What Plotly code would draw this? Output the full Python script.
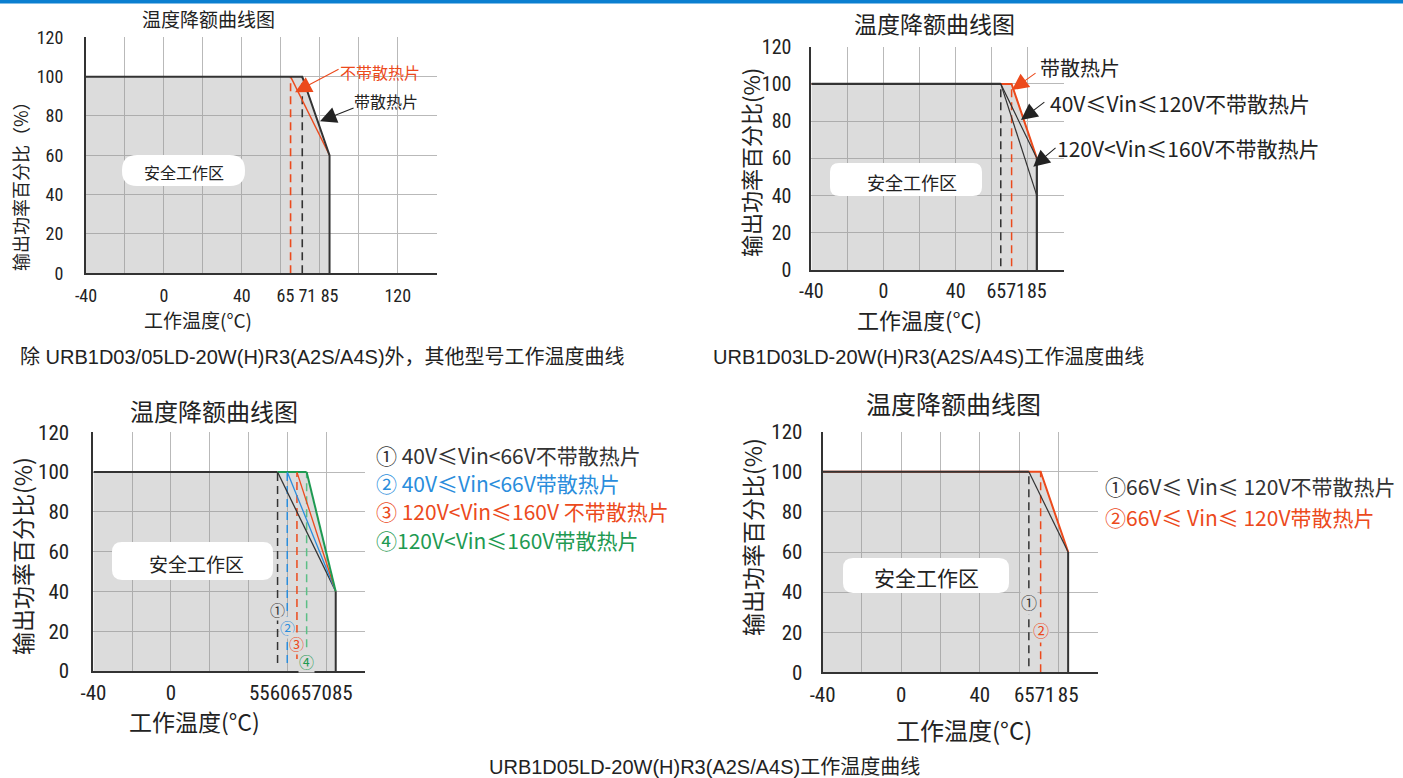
import plotly.graph_objects as go

W, H = 1403, 778
NUM_FONT = "Roboto Condensed, DejaVu Sans Condensed, Noto Sans CJK SC, sans-serif"
CJK_FONT = "Noto Sans CJK SC, Noto Sans, sans-serif"
CAP_FONT = "Liberation Sans, Arial, Noto Sans CJK SC, sans-serif"

DARK = "#333333"
GRID = "#b9b9b9"
RED = "#ec4a1c"
BLUE = "#2a8ddc"
GREEN = "#1e9a52"
FILL = "rgba(150,150,150,0.33)"
SHADE = "#dcdcdc"

# ---------------- data ----------------
pct_ticks = [0, 20, 40, 60, 80, 100, 120]
t_min = -40

# Chart 1: 除 URB1D03/05LD-20W(H)R3(A2S/A4S)外，其他型号
c1_xrange = [-40, 140]
c1_tick_groups = [[-40], [0], [40], [65, 71], [85], [120]]
c1_knees = [65, 71]                 # 不带散热片, 带散热片
c1_colors = [RED, DARK]
c1_end = (85, 60)
c1_dash_bottom = [0, 0]
c1_notes = ["不带散热片", "带散热片"]

# Chart 2: URB1D03LD-20W(H)R3(A2S/A4S)
c2_xrange = [-40, 100]
c2_tick_groups = [[-40], [0], [40], [65, 71], [85]]
c2_hs_temp = [t_min, 71, 85]        # 带散热片
c2_hs_pct = [100, 100, 60]
c2_lo_temp = [t_min, 65, 85]        # 40V≤Vin≤120V 不带散热片
c2_lo_pct = [100, 100, 60]
c2_hi_temp = [65, 85]               # 120V<Vin≤160V 不带散热片
c2_hi_pct = [100, 40]
c2_dash_temp = [65, 71]
c2_dash_colors = [DARK, RED]
c2_dash_bottom = [2, 2]
c2_notes = ["带散热片", "40V≤Vin≤120V不带散热片", "120V<Vin≤160V不带散热片"]

# Chart 3: URB1D05LD-20W(H)R3(A2S/A4S), A
c3_xrange = [-40, 100]
c3_tick_groups = [[-40], [0], [55, 60, 65, 70, 85]]
c3_knees = [55, 60, 65, 70]
c3_end = (85, 40)
c3_colors = [DARK, BLUE, RED, GREEN]
c3_dash_bottom = [4, 4, 6, 12]
c3_mark_pct = [31, 22, 14, 5]
c3_marks = ["①", "②", "③", "④"]
c3_labels = ["① 40V≤Vin<66V不带散热片", "② 40V≤Vin<66V带散热片",
             "③ 120V<Vin≤160V 不带散热片", "④120V<Vin≤160V带散热片"]

# Chart 4: URB1D05LD-20W(H)R3(A2S/A4S), B
c4_xrange = [-40, 100]
c4_tick_groups = [[-40], [0], [40], [65, 71], [85]]
c4_knees = [65, 71]
c4_end = (85, 60)
c4_colors = [DARK, RED]
c4_dash_bottom = [3, 0]
c4_mark_pct = [35, 21]
c4_marks = ["①", "②"]
c4_labels = ["①66V≤ Vin≤ 120V不带散热片", "②66V≤ Vin≤ 120V带散热片"]

titles = ["温度降额曲线图"] * 4
x_title = "工作温度(°C)"
safe_text = "安全工作区"
captions = ["除 URB1D03/05LD-20W(H)R3(A2S/A4S)外，其他型号工作温度曲线",
            "URB1D03LD-20W(H)R3(A2S/A4S)工作温度曲线",
            "URB1D05LD-20W(H)R3(A2S/A4S)工作温度曲线"]

def fx(p):
    return p / W

def fy(p):
    return 1 - p / H

def xn(i):
    return "x" if i == 1 else f"x{i}"

def yn(i):
    return "y" if i == 1 else f"y{i}"

fig = go.Figure()

def line(i, xs, ys, color, width, dash=None):
    fig.add_trace(go.Scatter(x=xs, y=ys, mode="lines", xaxis=xn(i), yaxis=yn(i),
                             line=dict(color=color, width=width, dash=dash),
                             hoverinfo="skip", showlegend=False))

def shade(i, xs, ys):
    fig.add_trace(go.Scatter(x=xs, y=ys, mode="lines", fill="toself", fillcolor=FILL,
                             line=dict(width=0), xaxis=xn(i), yaxis=yn(i),
                             hoverinfo="skip", showlegend=False))

def groups_to_ticks(groups, sep):
    vals = [sum(g) / len(g) for g in groups]
    text = [sep.join(str(v) for v in g) for g in groups]
    return vals, text

# plot-area geometry in pixels: (left, right), (bottom, top)
geom = {
    1: dict(xp=(86, 436.7), yp=(273.3, 37.3), xr=c1_xrange, groups=c1_tick_groups, sep=" ",
            fs=18, ystand=17, xstand=10),
    2: dict(xp=(811.4, 1063.9), yp=(270, 46.7), xr=c2_xrange, groups=c2_tick_groups, sep="",
            fs=20, ystand=14, xstand=7),
    3: dict(xp=(93.4, 364.8), yp=(671, 432.3), xr=c3_xrange, groups=c3_tick_groups, sep="",
            fs=21, ystand=18, xstand=7),
    4: dict(xp=(822.6, 1097.6), yp=(672.3, 431.7), xr=c4_xrange, groups=c4_tick_groups, sep="",
            fs=21, ystand=14, xstand=8),
}

layout = {}
for i, g in geom.items():
    xd = [fx(g["xp"][0]), fx(g["xp"][1])]
    yd = [fy(g["yp"][0]), fy(g["yp"][1])]
    xk = "xaxis" if i == 1 else f"xaxis{i}"
    yk = "yaxis" if i == 1 else f"yaxis{i}"
    layout[xk] = dict(domain=xd, range=g["xr"], anchor=yn(i), tick0=-40, dtick=20,
                      showgrid=True, gridcolor=GRID, gridwidth=1.4, showticklabels=False,
                      ticks="", showline=True, linecolor=DARK, linewidth=2,
                      zeroline=False, fixedrange=True, automargin=False)
    layout[yk] = dict(domain=yd, range=[0, 120], anchor=xn(i), tickvals=pct_ticks,
                      showgrid=True, gridcolor=GRID, gridwidth=1.4, ticks="",
                      showline=True, linecolor=DARK, linewidth=2, zeroline=False,
                      ticklabelstandoff=g["ystand"], fixedrange=True, automargin=False,
                      tickfont=dict(family=NUM_FONT, size=g["fs"], color="#222"))
    tv, tt = groups_to_ticks(g["groups"], g["sep"])
    layout[f"xaxis{i + 4}"] = dict(overlaying=xn(i), anchor=yn(i), range=g["xr"],
                                   tickvals=tv, ticktext=tt, showgrid=False, showline=False,
                                   zeroline=False, ticks="", tickangle=0, side="bottom",
                                   ticklabelstandoff=g["xstand"], fixedrange=True,
                                   automargin=False,
                                   tickfont=dict(family=NUM_FONT, size=g["fs"], color="#222"))

# invisible anchor traces so the tick-label axes are rendered
for i, g in geom.items():
    fig.add_trace(go.Scatter(x=[g["xr"][0]], y=[0], mode="markers", xaxis=f"x{i + 4}",
                             yaxis=yn(i), marker=dict(opacity=0), hoverinfo="skip",
                             showlegend=False))

# ---------------- chart 1 ----------------
k_no, k_hs = c1_knees
shade(1, [t_min, t_min, k_hs, c1_end[0], c1_end[0]], [0, 100, 100, c1_end[1], 0])
for k, col, b in zip(c1_knees, c1_colors, c1_dash_bottom):
    line(1, [k, k], [b, 100], col, 1.6, "8px,5px")
line(1, [k_no, c1_end[0]], [100, c1_end[1]], RED, 1.4)
line(1, [t_min, k_hs, c1_end[0], c1_end[0]], [100, 100, c1_end[1], 0], DARK, 2)

# ---------------- chart 2 ----------------
shade(2, [t_min] + c2_hs_temp + [c2_hs_temp[-1]], [0] + c2_hs_pct + [0])
for k, col, b in zip(c2_dash_temp, c2_dash_colors, c2_dash_bottom):
    line(2, [k, k], [b, 100], col, 1.5, "8px,5px")
line(2, c2_hs_temp, c2_hs_pct, RED, 2)
line(2, c2_lo_temp, c2_lo_pct, DARK, 1.2)
line(2, c2_lo_temp[:2], c2_lo_pct[:2], DARK, 2.2)
line(2, c2_hi_temp, c2_hi_pct, DARK, 1.2)
line(2, [c2_hs_temp[-1]] * 2, [c2_hs_pct[-1], 0], DARK, 2.2)

# ---------------- chart 3 ----------------
e_t, e_p = c3_end
shade(3, [t_min, t_min, c3_knees[-1], e_t, e_t], [0, 100, 100, e_p, 0])
for k, col, b in zip(c3_knees, c3_colors, c3_dash_bottom):
    dcol = "#5cbf86" if col == GREEN else col
    line(3, [k, k], [b, 100], dcol, 1.5, "8px,5px")
line(3, [t_min, c3_knees[0]], [100, 100], DARK, 2)
line(3, [c3_knees[0], c3_knees[-1]], [100, 100], GREEN, 2)
for k, col in zip(c3_knees, c3_colors):
    line(3, [k, e_t], [100, e_p], col, 2 if col == GREEN else 1.3)
line(3, [e_t, e_t], [e_p, 0], DARK, 2)

# ---------------- chart 4 ----------------
e_t, e_p = c4_end
shade(4, [t_min, t_min, c4_knees[-1], e_t, e_t], [0, 100, 100, e_p, 0])
for k, col, b in zip(c4_knees, c4_colors, c4_dash_bottom):
    line(4, [k, k], [b, 100], col, 1.5, "8px,5px")
line(4, [t_min, c4_knees[-1], e_t], [100, 100, e_p], RED, 2)
line(4, [t_min, c4_knees[0]], [100, 100], DARK, 2)
line(4, [c4_knees[0], e_t], [100, e_p], DARK, 1.2)
line(4, [e_t, e_t], [e_p, 0], DARK, 2)

# ---------------- annotations ----------------
ann = []
shapes = []

def text(px, py, s, size, color="#222", family=CJK_FONT, anchor="center", angle=0):
    ann.append(dict(x=fx(px), y=fy(py), xref="paper", yref="paper", text=s,
                    showarrow=False, xanchor=anchor, yanchor="middle", textangle=angle,
                    font=dict(family=family, size=size, color=color)))

def arrow(i, tip, tail, color):
    ann.append(dict(x=tip[0], y=tip[1], ax=tail[0], ay=tail[1], xref=xn(i), yref=yn(i),
                    axref=xn(i), ayref=yn(i), text="", showarrow=True, arrowhead=2,
                    arrowsize=3, arrowwidth=1.1, arrowcolor=color))

def box(cx, cy, w, h, r):
    x0, x1, y0, y1 = cx - w / 2, cx + w / 2, cy - h / 2, cy + h / 2
    pts = [("M", x0 + r, y0), ("L", x1 - r, y0), ("Q", x1, y0, x1, y0 + r),
           ("L", x1, y1 - r), ("Q", x1, y1, x1 - r, y1), ("L", x0 + r, y1),
           ("Q", x0, y1, x0, y1 - r), ("L", x0, y0 + r), ("Q", x0, y0, x0 + r, y0)]
    path = ""
    for p in pts:
        cmd, coords = p[0], p[1:]
        xy = []
        for j in range(0, len(coords), 2):
            xy.append(f"{fx(coords[j]):.5f},{fy(coords[j + 1]):.5f}")
        path += cmd + " ".join(xy) + " "
    shapes.append(dict(type="path", xref="paper", yref="paper", path=path + "Z",
                       fillcolor="white", line=dict(width=0), layer="above"))

def mark(i, t, p, s, color, size):
    ann.append(dict(x=t, y=p, xref=xn(i), yref=yn(i), text=s, showarrow=False,
                    bgcolor=SHADE, borderpad=0,
                    font=dict(family=CJK_FONT, size=size, color=color)))

# titles
text(208, 18, titles[0], 19)
text(934, 23, titles[1], 23)
text(214, 410, titles[2], 24)
text(953, 403, titles[3], 25)

# y titles
text(20, 182, "输出功率百分比（%）", 18, angle=-90)
text(750, 162, "输出功率百分比(%)", 22, angle=-90)
text(22, 556, "输出功率百分比(%)", 23, angle=-90)
text(752, 537, "输出功率百分比(%)", 23, angle=-90)

# x titles
text(198, 319, x_title, 19)
text(919, 319, x_title, 22)
text(194, 721, x_title, 23)
text(964, 729, x_title, 24)

# captions
text(322, 357, captions[0], 20, family=CAP_FONT)
text(928, 357, captions[1], 20, family=CAP_FONT)
text(704, 767, captions[2], 20, family=CAP_FONT)

# safe-zone labels
box(183.5, 170.5, 123, 31, 15)
text(183.5, 172, safe_text, 16)
box(906, 179.5, 152, 33, 9)
text(912, 182, safe_text, 18)
box(192.5, 561, 161, 38, 10)
text(196, 563, safe_text, 19)
box(926, 575.5, 166, 35, 10)
text(926, 577, safe_text, 21)

# chart 1 notes
text(380.5, 72, c1_notes[0], 16, color=RED)
text(386, 101, c1_notes[1], 16)
arrow(1, (67.3, 92), (90.4, 104.2), RED)
arrow(1, (80.1, 77.3), (98.1, 84.4), "#222")

# chart 2 notes
text(1080, 68, c2_notes[0], 20)
text(1048, 103, c2_notes[1], 21, anchor="left")
text(1055, 148, c2_notes[2], 21, anchor="left")
arrow(2, (71.2, 96.7), (85.1, 106.4), RED)
arrow(2, (76.2, 80.6), (90, 90.8), "#222")
arrow(2, (83, 55.5), (96.2, 66.3), "#222")

# chart 3 legend & marks
for s, col, py in zip(c3_labels, c3_colors, [454.5, 482.5, 511, 540]):
    text(374, py, s, 21, color=col, anchor="left")
for k, p, s, col in zip(c3_knees, c3_mark_pct, c3_marks, c3_colors):
    mark(3, k, p, s, col, 15)

# chart 4 legend & marks
for s, col, py in zip(c4_labels, c4_colors, [486, 517]):
    text(1103, py, s, 21, color=col, anchor="left")
for k, p, s, col in zip(c4_knees, c4_mark_pct, c4_marks, c4_colors):
    mark(4, k, p, s, col, 16)

# top blue bar
shapes.append(dict(type="rect", xref="paper", yref="paper", x0=0, x1=1, y0=fy(3.5), y1=1,
                   fillcolor="#0b7fd0", line=dict(width=0)))

fig.update_layout(width=W, height=H,
                  margin=dict(l=0, r=0, t=0, b=0, pad=0, autoexpand=False),
                  paper_bgcolor="white", plot_bgcolor="white",
                  annotations=ann, shapes=shapes, **layout)

fig.write_html("out.html", config={"responsive": False, "displayModeBar": False},
               post_script="document.body.style.margin='0';document.body.style.overflow='hidden';")
